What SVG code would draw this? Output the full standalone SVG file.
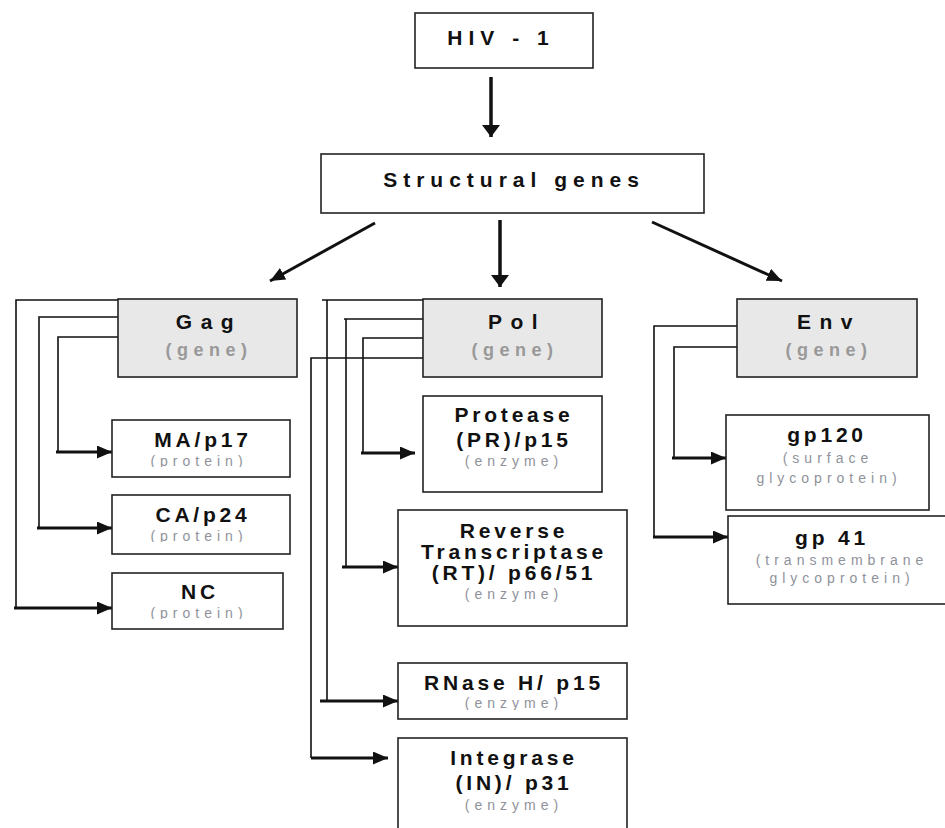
<svg xmlns="http://www.w3.org/2000/svg" width="945" height="828" viewBox="0 0 945 828">
<style>
text{font-family:"Liberation Sans",Arial,sans-serif;text-anchor:middle}
.box{fill:#fff;stroke:#222;stroke-width:1.6}
.gene{fill:#e8e8e8;stroke:#222;stroke-width:1.6}
.t{font-size:21px;font-weight:bold;fill:#111;letter-spacing:3.8px}
.top{font-size:21px;font-weight:bold;fill:#111;letter-spacing:6px}
.gt{font-size:21px;font-weight:bold;fill:#111;letter-spacing:8.5px}
.gs{font-size:18px;font-weight:bold;fill:#999;letter-spacing:5.5px}
.s{font-size:14px;fill:#8f929b;letter-spacing:5px}
.ln{fill:none;stroke:#111;stroke-width:1.6}
.ar{fill:none;stroke:#111;stroke-width:3;marker-end:url(#ah)}
.ab{fill:none;stroke:#111;stroke-width:3.5;marker-end:url(#ahb)}
</style>
<defs>
<marker id="ah" markerUnits="userSpaceOnUse" markerWidth="15" markerHeight="13" refX="15" refY="6.5" orient="auto">
<path d="M0,0 L15,6.5 L0,13 z" fill="#111"/>
</marker>
<marker id="ahb" markerUnits="userSpaceOnUse" markerWidth="18" markerHeight="18" refX="12" refY="9" orient="auto">
<path d="M0,0 L12,9 L0,18 z" fill="#111"/>
</marker>
<clipPath id="cMA"><rect x="112" y="420" width="178" height="47"/></clipPath>
<clipPath id="cCA"><rect x="112" y="495" width="178" height="47"/></clipPath>
<clipPath id="cNC"><rect x="112" y="573" width="171" height="46"/></clipPath>
<clipPath id="cRN"><rect x="398" y="663" width="229" height="47"/></clipPath>
</defs>

<g id="connectors">
<path class="ab" d="M491,77 V137"/>
<path class="ab" d="M500,220 V287"/>
<path class="ar" d="M375,223 L270,281"/>
<path class="ar" d="M652,222 L782,281"/>
<path class="ln" d="M118,337 H58 V452"/>
<path class="ar" d="M56,452 H112"/>
<path class="ln" d="M118,317 H39 V528"/>
<path class="ar" d="M37,528 H112"/>
<path class="ln" d="M118,300 H16 V608"/>
<path class="ar" d="M14,608 H112"/>
<path class="ln" d="M423,338 H363 V453"/>
<path class="ar" d="M361,453 H415"/>
<path class="ln" d="M423,319 H344 M346,319 V567"/>
<path class="ar" d="M342,567 H398"/>
<path class="ln" d="M423,300 H322 M327,300 V701"/>
<path class="ar" d="M320,701 H398"/>
<path class="ln" d="M423,358 H311 V758"/>
<path class="ar" d="M311,758 H388"/>
<path class="ln" d="M737,347 H674 V458"/>
<path class="ar" d="M672,458 H726"/>
<path class="ln" d="M737,326 H654 V537"/>
<path class="ar" d="M653,537 H728"/>
</g>

<g id="hiv">
<rect class="box" x="415" y="13" width="178" height="55"/>
<text class="top" x="501" y="45">HIV - 1</text>
</g>
<g id="structural">
<rect class="box" x="321" y="154" width="383" height="59"/>
<text class="top" x="514" y="187" style="letter-spacing:6px">Structural genes</text>
</g>

<g id="gag">
<rect class="gene" x="118" y="299" width="179" height="78"/>
<text class="gt" x="209" y="329">Gag</text>
<text class="gs" x="209" y="356">(gene)</text>
</g>
<g id="ma">
<rect class="box" x="112" y="420" width="178" height="57"/>
<text class="t" x="203" y="447">MA/p17</text>
<text class="s" x="199" y="466" clip-path="url(#cMA)">(protein)</text>
</g>
<g id="ca">
<rect class="box" x="112" y="495" width="178" height="59"/>
<text class="t" x="203" y="522">CA/p24</text>
<text class="s" x="199" y="541" clip-path="url(#cCA)">(protein)</text>
</g>
<g id="nc">
<rect class="box" x="112" y="573" width="171" height="56"/>
<text class="t" x="200" y="599">NC</text>
<text class="s" x="199" y="618" clip-path="url(#cNC)">(protein)</text>
</g>

<g id="pol">
<rect class="gene" x="423" y="299" width="179" height="78"/>
<text class="gt" x="517" y="329">Pol</text>
<text class="gs" x="515" y="356">(gene)</text>
</g>
<g id="pr">
<rect class="box" x="423" y="396" width="179" height="96"/>
<text class="t" x="514" y="422">Protease</text>
<text class="t" x="514" y="447">(PR)/p15</text>
<text class="s" x="514" y="466">(enzyme)</text>
</g>
<g id="rt">
<rect class="box" x="398" y="510" width="229" height="116"/>
<text class="t" x="514" y="538">Reverse</text>
<text class="t" x="514" y="559">Transcriptase</text>
<text class="t" x="514" y="580">(RT)/ p66/51</text>
<text class="s" x="514" y="599">(enzyme)</text>
</g>
<g id="rnase">
<rect class="box" x="398" y="663" width="229" height="56"/>
<text class="t" x="514" y="690">RNase H/ p15</text>
<text class="s" x="514" y="708" clip-path="url(#cRN)">(enzyme)</text>
</g>
<g id="in">
<rect class="box" x="398" y="738" width="229" height="100"/>
<text class="t" x="514" y="765">Integrase</text>
<text class="t" x="514" y="790">(IN)/ p31</text>
<text class="s" x="514" y="810">(enzyme)</text>
</g>

<g id="env">
<rect class="gene" x="737" y="299" width="180" height="78"/>
<text class="gt" x="829" y="329">Env</text>
<text class="gs" x="829" y="356">(gene)</text>
</g>
<g id="gp120">
<rect class="box" x="726" y="415" width="203" height="95"/>
<text class="t" x="827" y="442">gp120</text>
<text class="s" x="828" y="463">(surface</text>
<text class="s" x="829" y="483">glycoprotein)</text>
</g>
<g id="gp41">
<rect class="box" x="728" y="516" width="230" height="88"/>
<text class="t" x="832" y="545">gp 41</text>
<text class="s" x="842" y="565">(transmembrane</text>
<text class="s" x="842" y="583">glycoprotein)</text>
</g>
</svg>
